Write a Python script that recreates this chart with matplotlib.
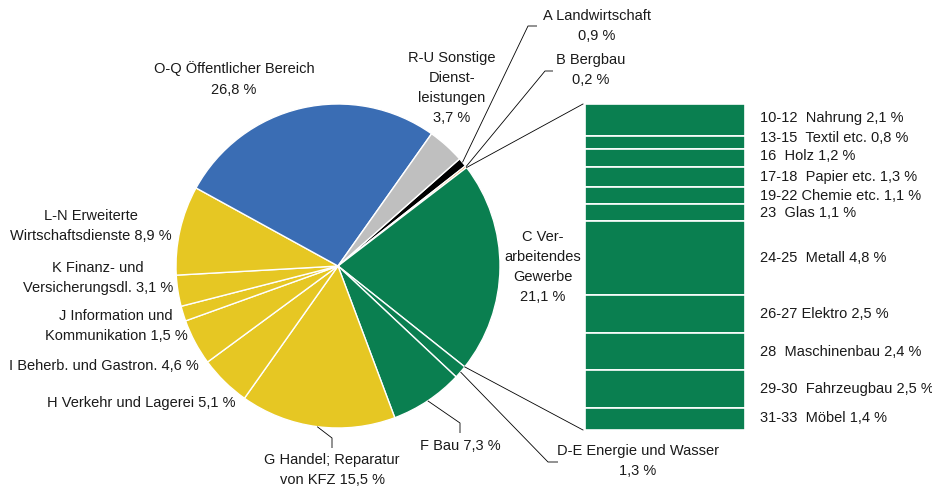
import numpy as np
import matplotlib
matplotlib.use("Agg")
import matplotlib.pyplot as plt

# ---------------- data ----------------
sectors = ["A Landwirtschaft", "B Bergbau", "C Verarbeitendes Gewerbe", "D-E Energie und Wasser",
           "F Bau", "G Handel; Reparatur von KFZ", "H Verkehr und Lagerei",
           "I Beherb. und Gastron.", "J Information und Kommunikation",
           "K Finanz- und Versicherungsdl.", "L-N Erweiterte Wirtschaftsdienste",
           "O-Q Öffentlicher Bereich", "R-U Sonstige Dienstleistungen"]
shares = [0.9, 0.2, 21.1, 1.3, 7.3, 15.5, 5.1, 4.6, 1.5, 3.1, 8.9, 26.8, 3.7]
sector_colors = ["#000000", "#F28C28", "#0A7F50", "#0A7F50", "#0A7F50", "#E6C723", "#E6C723",
                 "#E6C723", "#E6C723", "#E6C723", "#E6C723", "#3A6DB4", "#BFBFBF"]

sub_labels = ["10-12  Nahrung", "13-15  Textil etc.", "16  Holz", "17-18  Papier etc.",
              "19-22 Chemie etc.", "23  Glas", "24-25  Metall", "26-27 Elektro",
              "28  Maschinenbau", "29-30  Fahrzeugbau", "31-33  Möbel"]
sub_shares = [2.1, 0.8, 1.2, 1.3, 1.1, 1.1, 4.8, 2.5, 2.4, 2.5, 1.4]

def pct(v):
    return f"{v:.1f}".replace(".", ",") + " %"

# ---------------- figure ----------------
W, H = 932, 488
plt.rcParams['font.family'] = ['Liberation Sans', 'DejaVu Sans']
FS = 10.5
LS = 1.55
TC = "#1a1a1a"
fig = plt.figure(figsize=(W / 100, H / 100), dpi=100)
ax = fig.add_axes([0, 0, 1, 1])

def py(y):  # pixel row -> data y
    return H - y

cx, cy, R = 338, 266, 162
start = 41.4
ax.pie(shares, colors=sector_colors, startangle=start, counterclock=False,
       center=(cx, py(cy)), radius=R,
       wedgeprops=dict(edgecolor="white", linewidth=1.0))
ax.set_xlim(0, W)
ax.set_ylim(0, H)
ax.set_aspect("auto")
ax.axis("off")

# angles from data
cum = np.concatenate([[0], np.cumsum(shares)])
def ang_at(frac_pct):
    return np.deg2rad(start - 360 * frac_pct / 100)

def leader(i, pts):
    a = ang_at((cum[i] + cum[i + 1]) / 2)
    x0, y0 = cx + R * np.cos(a), py(cy) + R * np.sin(a)
    xs = [x0] + [p[0] for p in pts]
    ys = [y0] + [py(p[1]) for p in pts]
    ax.plot(xs, ys, color="black", lw=0.6, solid_capstyle="butt")

def label(x, y, s, ha="center"):
    ax.text(x, py(y), s, ha=ha, va="center", fontsize=FS, linespacing=LS, color=TC)

# leaders
leader(0, [(528, 26), (537, 26)])
leader(1, [(545, 71), (553, 71)])
leader(3, [(548, 462), (558, 462)])
leader(4, [(460, 423), (460, 433)])
leader(5, [(332, 438), (332, 448)])

# labels
label(597, 26, "A Landwirtschaft\n" + pct(shares[0]))
label(591, 70, "B Bergbau\n" + pct(shares[1]))
label(543, 267, "C Ver-\narbeitendes\nGewerbe\n" + pct(shares[2]))
label(638, 461, "D-E Energie und Wasser\n" + pct(shares[3]))
label(460, 446, "F Bau " + pct(shares[4]))
label(332, 470, "G Handel; Reparatur\nvon KFZ " + pct(shares[5]))
label(141, 403, "H Verkehr und Lagerei " + pct(shares[6]))
label(104, 366, "I Beherb. und Gastron. " + pct(shares[7]))
label(116, 326, "J Information und\nKommunikation " + pct(shares[8]))
label(98, 278, "K Finanz- und\nVersicherungsdl. " + pct(shares[9]))
label(91, 226, "L-N Erweiterte\nWirtschaftsdienste " + pct(shares[10]))
label(234, 79, "O-Q Öffentlicher Bereich\n" + pct(shares[11]))
label(452, 88, "R-U Sonstige\nDienst-\nleistungen\n" + pct(shares[12]))

# ---------------- stacked bar of C ----------------
bx0, bx1, by0, by1 = 585, 745, 104, 430
ax2 = fig.add_axes([bx0 / W, (H - by1) / H, (bx1 - bx0) / W, (by1 - by0) / H])
tot = sum(sub_shares)
bottoms = np.concatenate([[0], np.cumsum(sub_shares)[:-1]])
ax2.bar([0] * len(sub_shares), sub_shares, bottom=bottoms, width=1.0,
        color="#0A7F50", edgecolor="white", linewidth=1.2)
ax2.set_xlim(-0.5, 0.5)
ax2.set_ylim(tot, 0)
ax2.axis("off")

# connector lines from C wedge to bar
a1 = ang_at(cum[2])
a2 = ang_at(cum[3])
ax.plot([cx + R * np.cos(a1), bx0 - 2], [py(cy) + R * np.sin(a1), py(by0)], color="black", lw=0.6)
ax.plot([cx + R * np.cos(a2), bx0 - 2], [py(cy) + R * np.sin(a2), py(by1)], color="black", lw=0.6)

# sub labels
offsets = [-2, -4, -2, 0, 1, 1, 0, 0, 0, 0, -1]
scale = (by1 - by0) / tot
for lab, v, b, off in zip(sub_labels, sub_shares, bottoms, offsets):
    yc = by0 + (b + v / 2) * scale + off
    ax.text(760, py(yc), lab + " " + pct(v), ha="left", va="center", fontsize=FS, color=TC)

fig.savefig("out.png", dpi=100)
